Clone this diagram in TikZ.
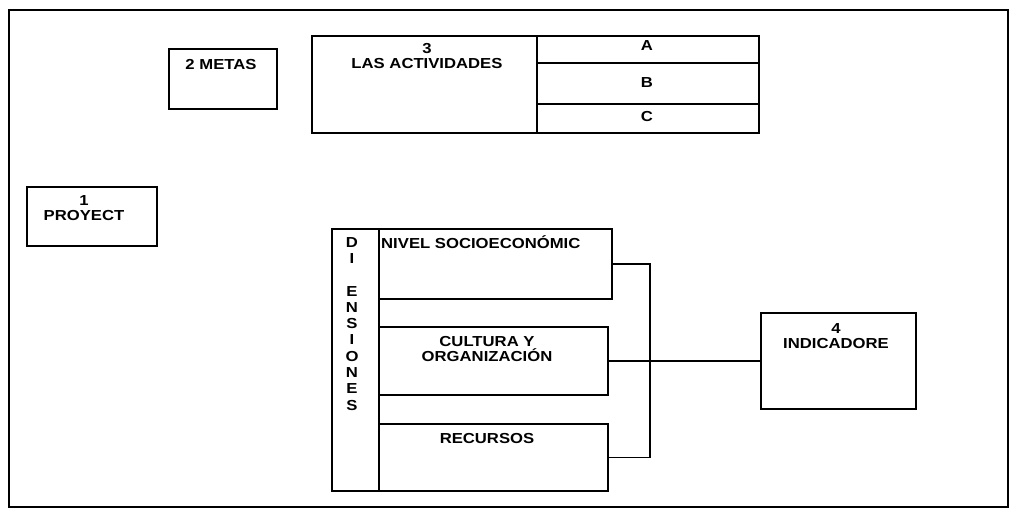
\documentclass[tikz,border=0pt]{standalone}
\usepackage{fontspec}
\setmainfont{Liberation Sans}[FakeStretch=1.15]
\begin{document}
\begin{tikzpicture}[x=1pt,y=-1pt,
  box/.style={draw, line width=1.5pt, inner sep=0pt, anchor=north west},
  frm/.style={draw, line width=2pt, inner sep=0pt, anchor=north west},
  lbl/.style={font=\fontsize{14.5}{15.5}\selectfont\bfseries, inner sep=0pt, align=center},
  conn/.style={line width=1.5pt}]
\useasboundingbox (0,0) rectangle (1012,515);
% outer frame
\node[frm, minimum width=999pt, minimum height=497pt] (frame) at (8,9) {};
% boxes
\node[box, minimum width=108pt, minimum height=60pt] (metas) at (168,48) {};
\node[box, minimum width=225pt, minimum height=97pt] (act) at (311,35) {};
\node[box, minimum width=222pt, minimum height=27pt] (ca) at (536,35) {};
\node[box, minimum width=222pt, minimum height=41pt] (cb) at (536,62) {};
\node[box, minimum width=222pt, minimum height=29pt] (cc) at (536,103) {};
\node[box, minimum width=130pt, minimum height=59pt] (proy) at (26,186) {};
\node[box, minimum width=47pt, minimum height=262pt] (dim) at (331,228) {};
\node[box, minimum width=233pt, minimum height=70pt] (nivel) at (378,228) {};
\node[box, minimum width=229pt, minimum height=68pt] (cultura) at (378,326) {};
\node[box, minimum width=229pt, minimum height=67pt] (recursos) at (378,423) {};
\node[box, minimum width=155pt, minimum height=96pt] (ind) at (760,312) {};
% labels
\node[lbl] (tmetas) at (221,65) {2 METAS};
\node[lbl] (tact) at (427,56) {3\\LAS ACTIVIDADES};
\node[lbl] (ta) at (647,46) {A};
\node[lbl] (tb) at (647,83) {B};
\node[lbl] (tc) at (647,117) {C};
\node[lbl] (tproy) at (84,208) {1\\PROYECT};
\node[lbl, anchor=west] (tnivel) at (381,242) {NIVEL SOCIOECONÓMIC};
\node[lbl] (tcult) at (487,349) {CULTURA Y\\ORGANIZACIÓN};
\node[lbl] (trec) at (487,438) {RECURSOS};
\node[lbl] (tind) at (836,336) {4\\INDICADORE};
\node[lbl, font=\fontsize{14.5}{16.3}\selectfont\bfseries, anchor=north] (tdim) at (352,237) {D\\I\\[16.3pt]E\\N\\S\\I\\O\\N\\E\\S};
% connectors
\coordinate (j) at (650,0);
\draw[conn] (nivel.east) -- (nivel.east -| j) -- (recursos.east -| j) -- (recursos.east);
\draw[conn] (cultura.east) -- (ind.west);
\end{tikzpicture}
\end{document}
